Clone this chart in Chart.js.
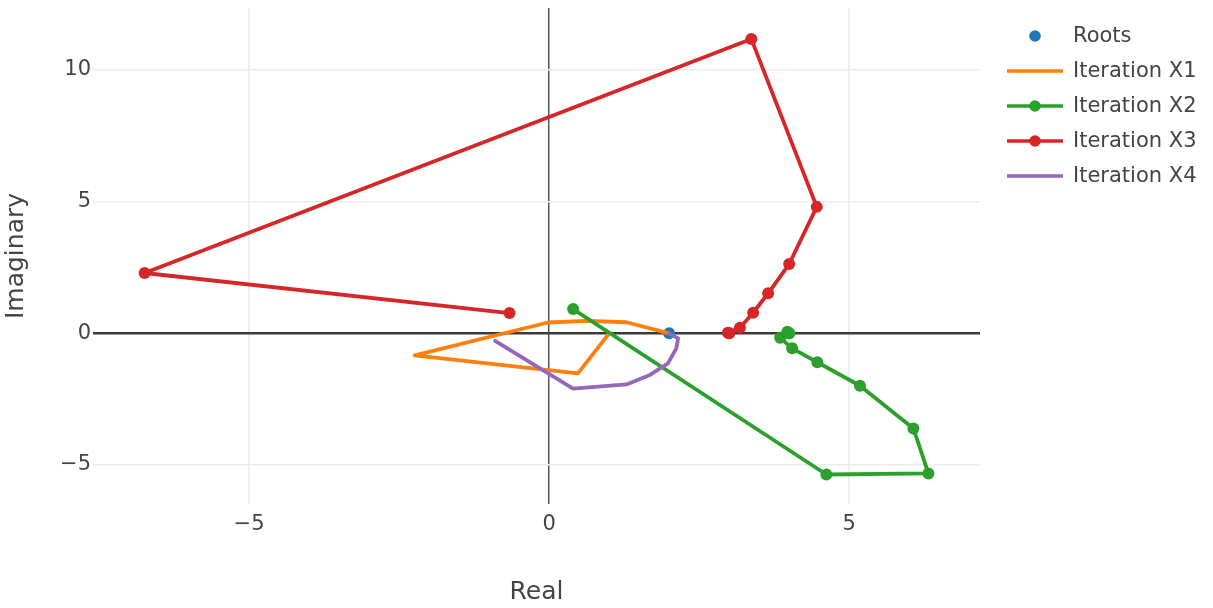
<!DOCTYPE html>
<html>
<head>
<meta charset="utf-8">
<script src="https://cdn.jsdelivr.net/npm/chart.js@4.4.1/dist/chart.umd.min.js"></script>
<style>
  html, body { margin: 0; padding: 0; background: #fff; }
  #wrap { width: 1213px; height: 608px; }
</style>
</head>
<body>
<div id="wrap"><canvas id="iterChart"></canvas></div>
<script>
// roots of the polynomial (on the real axis)
const rootsReal = [2, 3, 4];
const rootsImag = [0, 0, 0];

// iteration paths
const x1Real = [1.0, 0.48, -2.24, -0.02, 0.62, 1.29, 2.0];
const x1Imag = [0.0, -1.52, -0.84, 0.41, 0.47, 0.42, 0.0];

const x2Real = [0.4, 4.62, 6.32, 6.07, 5.18, 4.47, 4.05, 3.85, 3.97, 4.0];
const x2Imag = [0.92, -5.36, -5.32, -3.61, -1.99, -1.10, -0.57, -0.17, 0.06, 0.0];

const x3Real = [-0.66, -6.74, 3.37, 4.46, 4.0, 3.65, 3.40, 3.18, 2.98, 3.0];
const x3Imag = [0.77, 2.29, 11.17, 4.80, 2.63, 1.52, 0.78, 0.21, 0.02, 0.0];

const x4Real = [-0.9, 0.40, 1.29, 1.68, 1.98, 2.12, 2.15, 2.0];
const x4Imag = [-0.29, -2.10, -1.94, -1.58, -1.14, -0.57, -0.19, 0.0];

const xTicks = [-5, 0, 5];
const yTicks = [-5, 0, 5, 10];

function toPoints(re, im) {
    return re.map((r, i) => ({ x: r, y: im[i] }));
}

function fmt(v) {
    return v < 0 ? '\u2212' + Math.abs(v) : String(v);
}

Chart.defaults.font.family = '"DejaVu Sans", Verdana, sans-serif';
Chart.defaults.color = '#444';

// plotly-like legend on the right side
const sideLegend = {
    id: 'sideLegend',
    afterDraw(chart) {
        const ctx = chart.ctx;
        ctx.save();
        ctx.font = '21px "DejaVu Sans"';
        ctx.textBaseline = 'middle';
        chart.data.datasets.forEach((ds, i) => {
            const y = 36 + i * 35;
            if (ds.showLine !== false) {
                ctx.strokeStyle = ds.borderColor;
                ctx.lineWidth = 3.6;
                ctx.beginPath();
                ctx.moveTo(1007, y);
                ctx.lineTo(1063, y);
                ctx.stroke();
            }
            if (ds.pointRadius > 0) {
                ctx.fillStyle = ds.backgroundColor;
                ctx.beginPath();
                ctx.arc(1035, y, 5.8, 0, Math.PI * 2);
                ctx.fill();
            }
            ctx.fillStyle = '#444';
            ctx.fillText(ds.label, 1073, y + 1);
        });
        ctx.restore();
    }
};

function lineSet(label, color, re, im, withMarkers, order) {
    return {
        label: label,
        data: toPoints(re, im),
        showLine: true,
        borderColor: color,
        backgroundColor: color,
        borderWidth: 3.8,
        borderJoinStyle: 'round',
        borderCapStyle: 'round',
        tension: 0,
        pointRadius: withMarkers ? 6 : 0,
        pointBorderWidth: 0,
        pointHoverRadius: withMarkers ? 6 : 0,
        order: order
    };
}

const ctx = document.getElementById('iterChart').getContext('2d');
new Chart(ctx, {
    type: 'scatter',
    data: {
        datasets: [
            {
                label: 'Roots',
                data: toPoints(rootsReal, rootsImag),
                showLine: false,
                backgroundColor: '#1f77b4',
                borderColor: '#1f77b4',
                pointRadius: 6,
                pointBorderWidth: 0,
                order: 5
            },
            lineSet('Iteration X1', '#ff7f0e', x1Real, x1Imag, false, 4),
            lineSet('Iteration X2', '#2ca02c', x2Real, x2Imag, true, 3),
            lineSet('Iteration X3', '#d62728', x3Real, x3Imag, true, 2),
            lineSet('Iteration X4', '#9467bd', x4Real, x4Imag, false, 1)
        ]
    },
    options: {
        responsive: true,
        maintainAspectRatio: false,
        animation: false,
        layout: { padding: { left: 0, top: 8, right: 233, bottom: 0 } },
        plugins: {
            legend: { display: false },
            tooltip: { enabled: false }
        },
        scales: {
            x: {
                type: 'linear',
                min: -7.6,
                max: 7.18,
                afterBuildTicks: s => { s.ticks = xTicks.map(v => ({ value: v })); },
                afterFit: s => { s.height = 104; },
                border: { display: false },
                grid: {
                    drawTicks: false,
                    color: c => (c.tick && c.tick.value === 0) ? '#555' : '#ebebeb',
                    lineWidth: 1.5
                },
                ticks: {
                    font: { size: 21 },
                    color: '#444',
                    padding: 8,
                    maxRotation: 0,
                    callback: v => fmt(v)
                },
                title: {
                    display: true,
                    text: 'Real',
                    font: { size: 25 },
                    color: '#444',
                    padding: { top: 0, bottom: 1 }
                }
            },
            y: {
                type: 'linear',
                min: -6.48,
                max: 12.35,
                afterBuildTicks: s => { s.ticks = yTicks.map(v => ({ value: v })); },
                afterFit: s => { s.width = 93; s.paddingTop = 0; s.paddingBottom = 0; },
                border: { display: false },
                grid: {
                    drawTicks: false,
                    color: c => (c.tick && c.tick.value === 0) ? '#3a3a3a' : '#ebebeb',
                    lineWidth: c => (c.tick && c.tick.value === 0) ? 2.5 : 1.5
                },
                ticks: {
                    font: { size: 21 },
                    color: '#444',
                    padding: 2,
                    callback: v => fmt(v)
                },
                title: {
                    display: true,
                    text: 'Imaginary',
                    font: { size: 25 },
                    color: '#444',
                    padding: { top: 1, bottom: 0 }
                }
            }
        }
    },
    plugins: [sideLegend]
});
</script>
</body>
</html>
